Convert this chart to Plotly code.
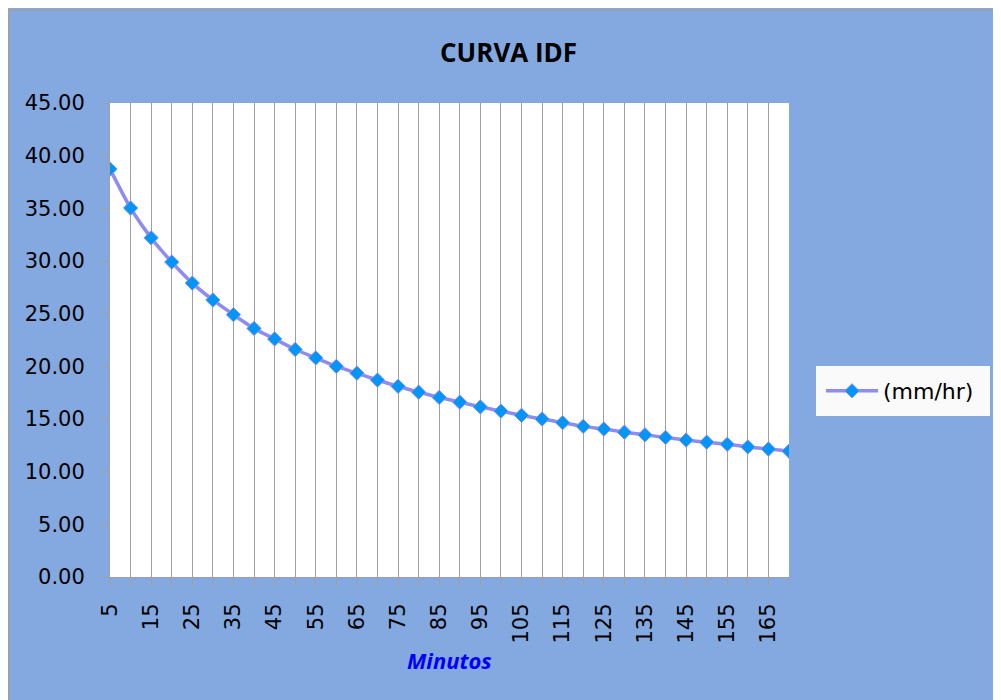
import plotly.graph_objects as go

minutos = [5, 10, 15, 20, 25, 30, 35, 40, 45, 50, 55, 60, 65, 70, 75, 80, 85,
           90, 95, 100, 105, 110, 115, 120, 125, 130, 135, 140, 145, 150, 155,
           160, 165, 170]
intensidad = [38.73, 35.03, 32.2, 29.9, 27.9, 26.3, 24.9, 23.6, 22.6, 21.6,
              20.8, 20.0, 19.35, 18.7, 18.1, 17.55, 17.05, 16.6, 16.15, 15.75,
              15.35, 15.0, 14.65, 14.3, 14.05, 13.75, 13.5, 13.25, 13.0, 12.8,
              12.6, 12.35, 12.15, 11.95]
tick_labels = [str(m) if (m // 5) % 2 == 1 else "" for m in minutos]
serie = "(mm/hr)"

# figure pixel coords (page body adds an 8px offset in the screenshot)
W, H = 1001, 700
L, R, T, B = 102, 220, 95, 131
pw, ph = W - L - R, H - T - B
BLUE = "#83A9E0"
GRAY = "#A0A0A0"

def px(x):
    return (x - L) / pw

def py(y):
    return (H - B - y) / ph

fig = go.Figure()
fig.add_trace(go.Scatter(
    x=minutos, y=intensidad, name=serie, mode="lines+markers",
    line=dict(color="#8E8CF0", width=3.5, shape="spline", smoothing=0.6),
    marker=dict(symbol="diamond", size=11, color="#0096F5",
                line=dict(color="#8E8CF0", width=1)),
))

fig.update_layout(
    width=W, height=H,
    margin=dict(l=L, r=R, t=T, b=B),
    paper_bgcolor=BLUE, plot_bgcolor="white",
    showlegend=True,
    legend=dict(x=px(813), y=py(383), xanchor="left", yanchor="middle",
                bgcolor="rgba(0,0,0,0)", borderwidth=0, itemwidth=52,
                font=dict(family="DejaVu Sans", size=22, color="black")),
    xaxis=dict(range=[5, 170], tickvals=minutos, ticktext=tick_labels,
               tickangle=-90, showgrid=True, gridcolor=GRAY, gridwidth=1,
               ticks="outside", ticklen=8, tickcolor=GRAY,
               ticklabelstandoff=9,
               showline=True, linecolor=GRAY, linewidth=1, zeroline=False,
               tickfont=dict(family="DejaVu Sans", size=21, color="black")),
    yaxis=dict(range=[0, 45], dtick=5, tick0=0, tickformat=".2f",
               showgrid=False, ticks="outside", ticklen=8, tickcolor=GRAY,
               ticklabelstandoff=12,
               showline=True, linecolor=GRAY, linewidth=1, zeroline=False,
               tickfont=dict(family="DejaVu Sans", size=21, color="black")),
    shapes=[
        dict(type="line", xref="paper", yref="paper", x0=px(0.5), x1=px(0.5),
             y0=py(H), y1=py(2), line=dict(color=GRAY, width=1.5)),
        dict(type="line", xref="paper", yref="paper", x0=px(0), x1=px(W),
             y0=py(2), y1=py(2), line=dict(color=GRAY, width=1.5)),
        dict(type="rect", xref="paper", yref="paper", layer="above",
             x0=px(808), x1=px(982), y0=py(408), y1=py(358),
             fillcolor="#FAFAFA", line=dict(width=0)),
    ],
    annotations=[
        dict(text="<b>CURVA IDF</b>", xref="paper", yref="paper",
             x=px(500), y=py(44), showarrow=False, xanchor="center",
             yanchor="middle",
             font=dict(family="Open Sans", size=26, color="black")),
        dict(text="<b><i>Minutos</i></b>", xref="paper", yref="paper",
             x=px(441), y=py(652), showarrow=False, xanchor="center",
             yanchor="middle",
             font=dict(family="Open Sans", size=22, color="#0000FF")),
    ],
)

fig.write_html("out.html")
